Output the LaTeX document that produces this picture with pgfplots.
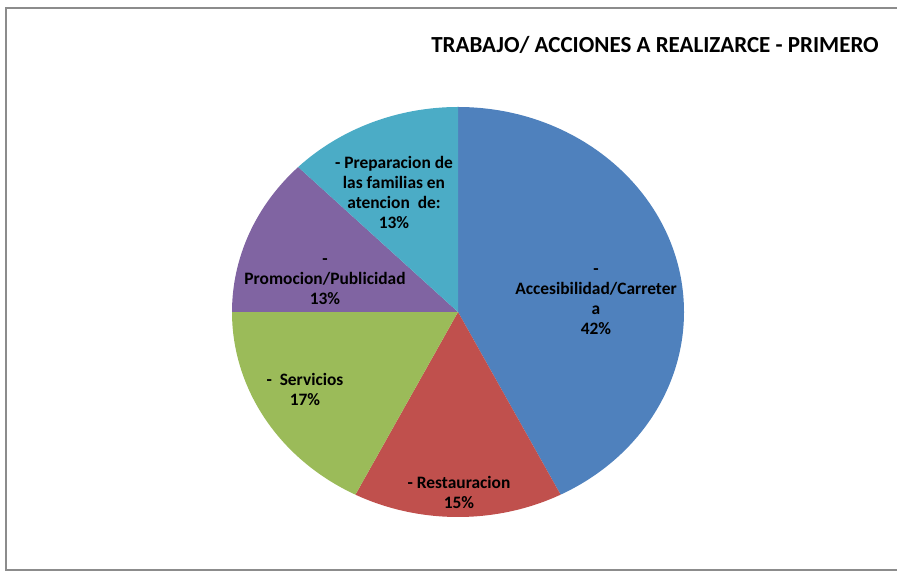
\documentclass[border=0pt]{standalone}
\usepackage{pgfplots}
\usepackage{pgfplotstable}
\usepackage{fontspec}
\setmainfont{Carlito}
\pgfplotsset{compat=1.18}
\definecolor{cA}{HTML}{4F81BD}
\definecolor{cB}{HTML}{C0504D}
\definecolor{cC}{HTML}{9BBB59}
\definecolor{cD}{HTML}{8064A2}
\definecolor{cE}{HTML}{4BACC6}
\pgfplotstableread{
idx value
0 17
1 6
2 7
3 5
4 5
}\piedata
\begin{document}
\begin{tikzpicture}
\pgfplotstablegetelem{0}{value}\of\piedata\let\vA\pgfplotsretval
\pgfplotstablegetelem{1}{value}\of\piedata\let\vB\pgfplotsretval
\pgfplotstablegetelem{2}{value}\of\piedata\let\vC\pgfplotsretval
\pgfplotstablegetelem{3}{value}\of\piedata\let\vD\pgfplotsretval
\pgfplotstablegetelem{4}{value}\of\piedata\let\vE\pgfplotsretval
\pgfmathsetmacro\tot{\vA+\vB+\vC+\vD+\vE}
\pgfmathsetmacro\aA{90}
\pgfmathsetmacro\aB{\aA-360*\vA/\tot}
\pgfmathsetmacro\aC{\aB-360*\vB/\tot}
\pgfmathsetmacro\aD{\aC-360*\vC/\tot}
\pgfmathsetmacro\aE{\aD-360*\vD/\tot}
\pgfmathsetmacro\aF{\aE-360*\vE/\tot}
\def\cx{458}\def\cy{260}
\begin{axis}[x=1pt,y=1pt,xmin=0,xmax=897,ymin=0,ymax=572,
  hide axis, clip=false, scale only axis]
\draw[color=black!45, line width=1.6pt] (axis cs:897,2) -- (axis cs:6,2) -- (axis cs:6,564) -- (axis cs:897,564);
\fill[cA] (axis cs:\cx,\cy) -- ++(\aA:226pt and 205pt) arc[start angle=\aA, end angle=\aB, x radius=226pt, y radius=205pt] -- cycle;
\fill[cB] (axis cs:\cx,\cy) -- ++(\aB:226pt and 205pt) arc[start angle=\aB, end angle=\aC, x radius=226pt, y radius=205pt] -- cycle;
\fill[cC] (axis cs:\cx,\cy) -- ++(\aC:226pt and 205pt) arc[start angle=\aC, end angle=\aD, x radius=226pt, y radius=205pt] -- cycle;
\fill[cD] (axis cs:\cx,\cy) -- ++(\aD:226pt and 205pt) arc[start angle=\aD, end angle=\aE, x radius=226pt, y radius=205pt] -- cycle;
\fill[cE] (axis cs:\cx,\cy) -- ++(\aE:226pt and 205pt) arc[start angle=\aE, end angle=\aF, x radius=226pt, y radius=205pt] -- cycle;
\node[font=\fontsize{23}{27}\selectfont\bfseries] at (axis cs:655,527) {TRABAJO/ ACCIONES A REALIZARCE - PRIMERO};
\node[font=\fontsize{17.4}{20}\selectfont\bfseries, align=center] at (axis cs:596,270) {-\\Accesibilidad/Carreter\\a\\42\%};
\node[font=\fontsize{17.4}{20}\selectfont\bfseries, align=center] at (axis cs:459,80) {- Restauracion\\15\%};
\node[font=\fontsize{17.4}{20}\selectfont\bfseries, align=center] at (axis cs:305,183) {-\ \ Servicios\\17\%};
\node[font=\fontsize{17.4}{20}\selectfont\bfseries, align=center] at (axis cs:325,290) {-\\Promocion/Publicidad\\13\%};
\node[font=\fontsize{17.4}{20}\selectfont\bfseries, align=center] at (axis cs:394,380) {- Preparacion de\\las familias en\\atencion\ \ de:\\13\%};
\end{axis}
\pgfresetboundingbox
\useasboundingbox (0,0) rectangle (897pt,572pt);
\end{tikzpicture}
\end{document}
